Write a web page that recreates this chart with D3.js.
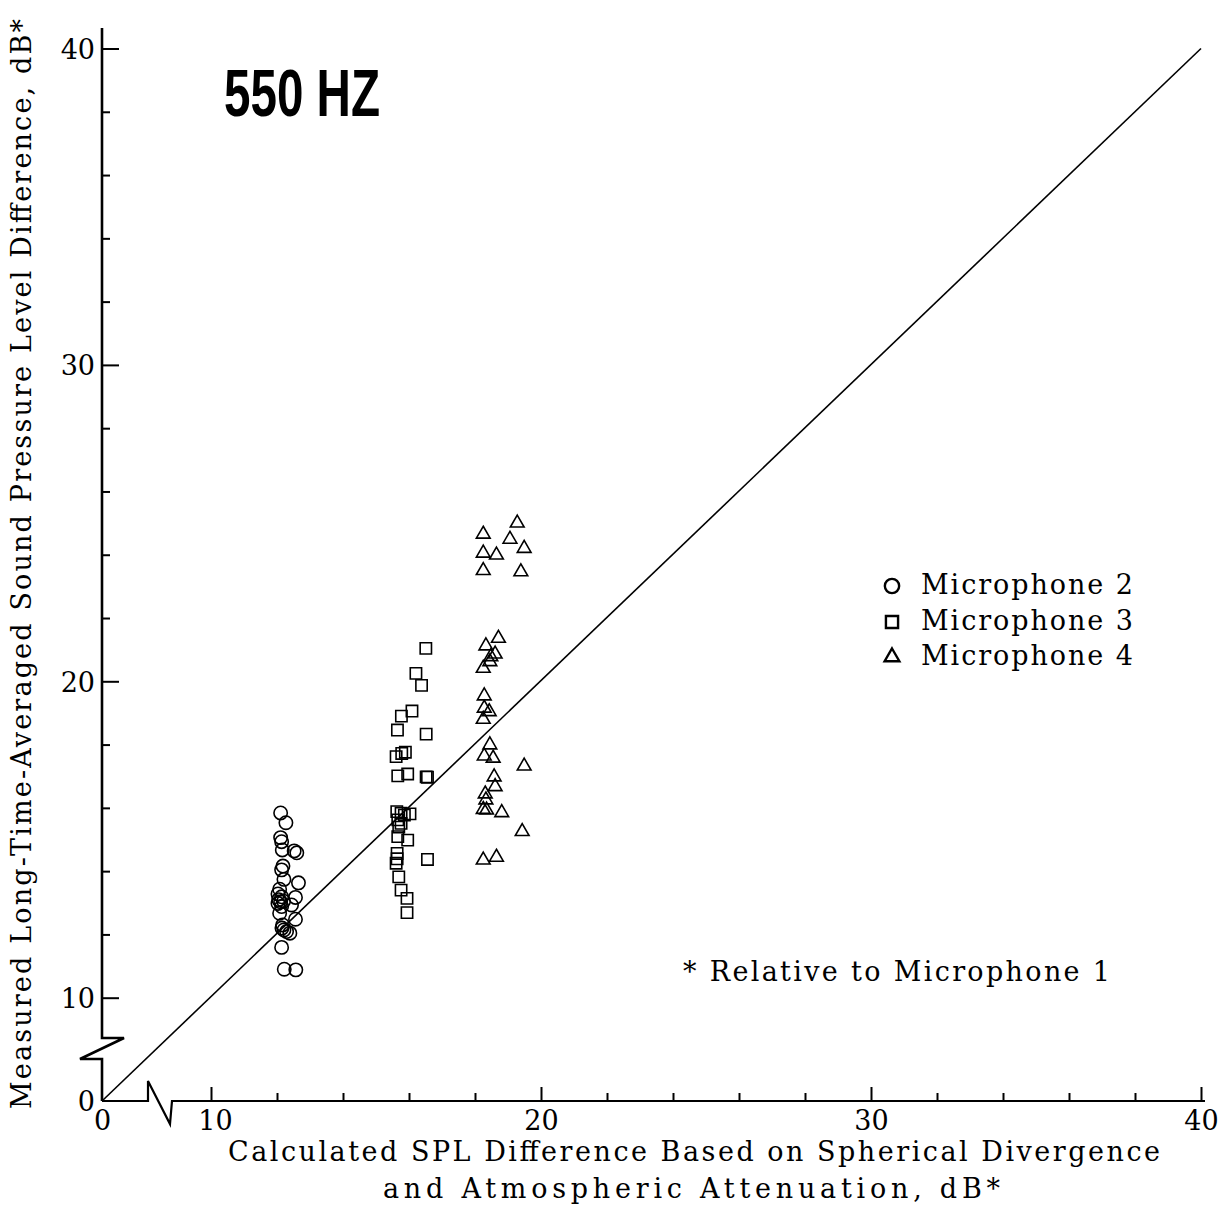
<!DOCTYPE html>
<html>
<head>
<meta charset="utf-8">
<script src="https://cdn.jsdelivr.net/npm/d3@7"></script>
<style>
  body { margin: 0; background: #fff; }
  text { font-family: "DejaVu Serif", "Liberation Serif", serif; fill: #000; }
</style>
</head>
<body>
<script>
//550 Hz measured vs calculated SPL difference, scatter with broken axes

//Page size
var W = 1225;
var H = 1208;

//Tick values
var majorTicks = [10, 20, 30, 40];
var minorTicks = [12, 14, 16, 18, 22, 24, 26, 28, 32, 34, 36, 38];
var xTickLabels = [0, 10, 20, 30, 40];
var yTickLabels = [0, 10, 20, 30, 40];

//Microphone 2 (circles): [calculated, measured]
var mic2 = [
  [12.11, 15.84], [12.27, 15.53], [12.11, 15.06], [12.14, 14.93], [12.16, 14.67],
  [12.52, 14.64], [12.60, 14.58], [12.18, 14.16], [12.14, 14.04], [12.21, 13.74],
  [12.65, 13.63], [12.08, 13.43], [12.03, 13.28], [12.14, 13.19], [12.56, 13.17],
  [12.11, 13.03], [12.03, 12.98], [12.14, 12.88], [12.44, 12.93], [12.08, 12.67],
  [12.56, 12.48], [12.17, 12.30], [12.21, 12.14], [12.29, 12.09], [12.39, 12.04],
  [12.14, 11.59], [12.22, 10.90], [12.57, 10.88], [12.20, 13.05], [12.05, 13.10],
  [12.15, 12.20]
];

//Microphone 3 (squares)
var mic3 = [
  [16.51, 21.04], [16.21, 20.25], [16.38, 19.87], [16.09, 19.06], [15.77, 18.90],
  [15.65, 18.46], [16.52, 18.33], [15.89, 17.76], [15.78, 17.72], [15.61, 17.62],
  [15.66, 17.01], [15.96, 17.07], [16.52, 16.98], [16.56, 16.97], [15.63, 15.88],
  [15.76, 15.83], [15.86, 15.77], [16.03, 15.81], [15.66, 15.62], [15.76, 15.51],
  [15.69, 15.39], [15.66, 15.09], [15.96, 14.98], [15.64, 14.56], [15.64, 14.39],
  [16.56, 14.37], [15.61, 14.25], [15.69, 13.82], [15.76, 13.40], [15.94, 13.14],
  [15.94, 12.69]
];

//Microphone 4 (triangles)
var mic4 = [
  [19.28, 25.00], [18.25, 24.65], [19.06, 24.49], [19.49, 24.20], [18.25, 24.05],
  [18.65, 23.99], [18.25, 23.50], [19.39, 23.46], [18.71, 21.36], [18.33, 21.12],
  [18.61, 20.86], [18.48, 20.78], [18.45, 20.62], [18.25, 20.41], [18.28, 19.54],
  [18.28, 19.15], [18.43, 19.04], [18.25, 18.80], [18.45, 17.99], [18.28, 17.64],
  [18.55, 17.57], [19.49, 17.32], [18.58, 16.98], [18.61, 16.67], [18.31, 16.44],
  [18.33, 16.25], [18.25, 15.95], [18.35, 15.93], [18.81, 15.85], [19.43, 15.25],
  [18.25, 14.35], [18.65, 14.44]
];

//Legend entries and reference line
var legendLabels = ["Microphone 2", "Microphone 3", "Microphone 4"];
var equalLine = [[0, 0], [40, 40]];

function main() {
  var svg = d3.select("body").append("svg")
    .attr("width", W)
    .attr("height", H);

  //Broken scales: 0..10 squeezed, 10..40 linear
  var xScale = d3.scaleLinear().domain([0, 10, 40]).range([102, 211, 1201]);
  var yScale = d3.scaleLinear().domain([0, 10, 40]).range([1101, 997.7, 48.5]);

  drawAxes(svg, xScale, yScale);
  drawPoints(svg, xScale, yScale);
  drawText(svg);
}

function drawAxes(svg, xScale, yScale) {
  var x0 = xScale(0), y0 = yScale(0);

  //Axis lines with the zig-zag breaks
  var yLine = [[x0, 28], [x0, 1038], [x0 + 22, 1038], [x0 - 22, 1059], [x0, 1059], [x0, y0]];
  var xLine = [[x0, y0], [148, y0], [148, 1081], [170, 1124], [172, y0], [1205, y0]];
  svg.append("path")
    .attr("d", d3.line()(yLine))
    .style("fill", "none").style("stroke", "#000").style("stroke-width", 2.6);
  svg.append("path")
    .attr("d", d3.line()(xLine))
    .style("fill", "none").style("stroke", "#000").style("stroke-width", 2.2);

  //Major and minor ticks point inward
  var yMajor = d3.axisLeft(yScale).tickValues(majorTicks).tickSize(-17).tickFormat("");
  var yMinor = d3.axisLeft(yScale).tickValues(minorTicks).tickSize(-8).tickFormat("");
  var xMajor = d3.axisBottom(xScale).tickValues(majorTicks).tickSize(-14).tickFormat("");
  var xMinor = d3.axisBottom(xScale).tickValues(minorTicks).tickSize(-8).tickFormat("");
  var yLabels = d3.axisLeft(yScale).tickValues(yTickLabels).tickSize(0).tickPadding(7);
  var xLabels = d3.axisBottom(xScale).tickValues(xTickLabels).tickSize(0).tickPadding(10);

  [yMajor, yMinor, yLabels].forEach(function(a) {
    svg.append("g").attr("class", "y axis")
      .attr("transform", "translate(" + x0 + ",0)")
      .call(a);
  });
  [xMajor, xMinor, xLabels].forEach(function(a) {
    svg.append("g").attr("class", "x axis")
      .attr("transform", "translate(0," + y0 + ")")
      .call(a);
  });

  svg.selectAll(".axis .domain").remove();
  svg.selectAll(".axis line").style("stroke", "#000").style("stroke-width", 2);
  svg.selectAll(".axis text")
    .style("font-family", "DejaVu Serif")
    .style("font-size", "27px")
    .style("fill", "#000");
  svg.selectAll(".y.axis text").attr("dy", "0.36em");
  svg.selectAll(".x.axis text").filter(function(d) { return d === 10; }).attr("dx", "4");

  //Line of equality
  svg.append("path")
    .attr("d", d3.line().x(function(d) { return xScale(d[0]); })
                        .y(function(d) { return yScale(d[1]); })(equalLine))
    .style("fill", "none").style("stroke", "#000").style("stroke-width", 1.6);
}

function drawPoints(svg, xScale, yScale) {
  var sets = [
    {data: mic2, sym: d3.symbolCircle, size: 140},
    {data: mic3, sym: d3.symbolSquare, size: 128},
    {data: mic4, sym: d3.symbolTriangle, size: 82}
  ];
  sets.forEach(function(s) {
    svg.append("g").selectAll("path")
      .data(s.data)
      .enter()
      .append("path")
      .attr("d", d3.symbol().type(s.sym).size(s.size))
      .attr("transform", function(d) {
        return "translate(" + xScale(d[0]) + "," + yScale(d[1]) + ")";
      })
      .style("fill", "none")
      .style("stroke", "#000")
      .style("stroke-width", 1.6);
  });

  //Legend
  var legend = svg.append("g").attr("transform", "translate(892,0)");
  var legendY = [586, 622, 657];
  legend.selectAll("path")
    .data(sets)
    .enter()
    .append("path")
    .attr("d", function(s) { return d3.symbol().type(s.sym).size(s.size * 1.15)(); })
    .attr("transform", function(s, i) { return "translate(0," + legendY[i] + ")"; })
    .style("fill", "none")
    .style("stroke", "#000")
    .style("stroke-width", 2.4);
  legend.selectAll("text")
    .data(legendLabels)
    .enter()
    .append("text")
    .attr("x", 29)
    .attr("y", function(d, i) { return legendY[i] + 8; })
    .attr("textLength", 212)
    .attr("lengthAdjust", "spacing")
    .style("font-size", "27px")
    .text(function(d) { return d; });
}

function drawText(svg) {
  //Title
  svg.append("text")
    .attr("x", 224)
    .attr("y", 116)
    .attr("textLength", 156)
    .attr("lengthAdjust", "spacingAndGlyphs")
    .style("font-family", "'Liberation Sans Narrow', 'Liberation Sans', sans-serif")
    .style("font-weight", "bold")
    .style("font-size", "66px")
    .text("550 HZ");

  //Axis titles
  svg.append("text")
    .attr("transform", "translate(31,564) rotate(-90)")
    .attr("text-anchor", "middle")
    .attr("textLength", 1090)
    .attr("lengthAdjust", "spacing")
    .style("font-size", "27px")
    .text("Measured Long-Time-Averaged Sound Pressure Level Difference, dB*");

  svg.append("text")
    .attr("x", 228)
    .attr("y", 1161)
    .attr("textLength", 932)
    .attr("lengthAdjust", "spacing")
    .style("font-size", "27px")
    .text("Calculated SPL Difference Based on Spherical Divergence");

  svg.append("text")
    .attr("x", 383)
    .attr("y", 1198)
    .attr("textLength", 617)
    .attr("lengthAdjust", "spacing")
    .style("font-size", "27px")
    .text("and Atmospheric Attenuation, dB*");

  //Footnote
  svg.append("text")
    .attr("x", 683)
    .attr("y", 981)
    .attr("textLength", 427)
    .attr("lengthAdjust", "spacing")
    .style("font-size", "27px")
    .text("* Relative to Microphone 1");
}

main();
</script>
</body>
</html>
